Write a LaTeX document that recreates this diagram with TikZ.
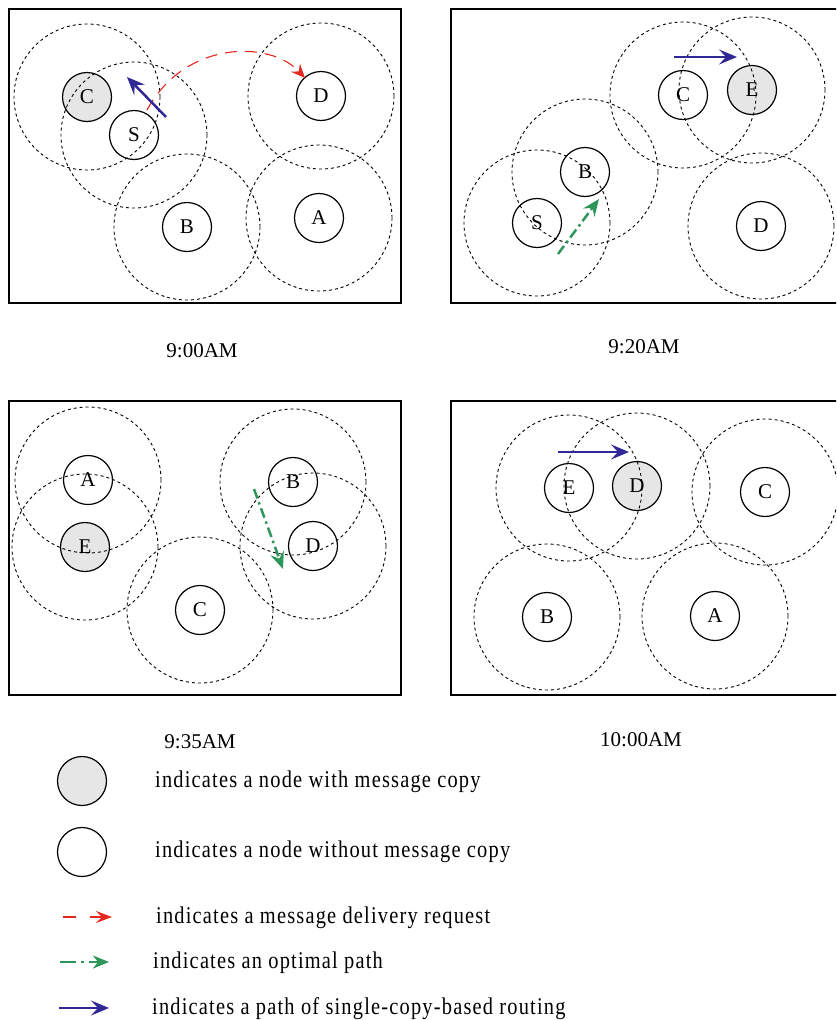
\documentclass[tikz,border=0pt]{standalone}
\usepackage{fontspec}
\setmainfont{Liberation Serif}
\newfontfamily\legfont[LetterSpace=5,FakeStretch=0.85]{Liberation Serif}
\usetikzlibrary{arrows.meta}
\definecolor{copyfill}{RGB}{230,230,230}
\definecolor{reqred}{RGB}{228,40,30}
\definecolor{optgreen}{RGB}{46,150,90}
\definecolor{scblue}{RGB}{48,40,150}
\begin{document}
\begin{tikzpicture}[x=1pt,y=-1pt,
  pbox/.style={draw, line width=1.1pt},
  mnode/.style={circle, draw, line width=1.2pt, minimum size=49pt, inner sep=0pt, font=\fontsize{21}{21}\selectfont},
  copynode/.style={mnode, fill=copyfill},
  rangecirc/.style={draw, line width=0.9pt, dash pattern=on 3pt off 3pt},
  reqarrow/.style={draw=reqred, line width=1.1pt, dash pattern=on 12pt off 8pt, -{Stealth[length=14pt,width=12pt,inset=5pt]}},
  optarrow/.style={draw=optgreen, line width=2.5pt, dash pattern=on 10pt off 4pt on 2.5pt off 4pt, -{Stealth[length=17pt,width=14pt,inset=6pt]}},
  scarrow/.style={draw=scblue, line width=2.5pt, -{Stealth[length=18pt,width=15pt,inset=7pt]}},
  timelbl/.style={anchor=base, inner sep=0pt, font=\fontsize{21}{21}\selectfont},
  legtext/.style={anchor=base west, inner sep=0pt, font=\legfont\fontsize{24}{24}\selectfont}
]
\useasboundingbox (0,0) rectangle (836,1020);
\clip (0,0) rectangle (836,1020);

% ---------- panel 1 : 9:00AM ----------
\draw[pbox] (9,9) rectangle (401,303);
\node[copynode] (p1C) at (87,97) {C};
\node[mnode] (p1S) at (134,135) {S};
\node[mnode] (p1D) at (321,96) {D};
\node[mnode] (p1B) at (187,227) {B};
\node[mnode] (p1A) at (319,218) {A};
\foreach \n in {p1C,p1S,p1D,p1B,p1A} \draw[rangecirc] (\n.center) circle[radius=73pt];
\coordinate (p1r0) at (147,110);
\coordinate (p1r1) at (305,78);
\draw[reqarrow] (p1r0) .. controls (185,40) and (270,40) .. (p1r1);
\coordinate (p1b0) at (166,117);
\coordinate (p1b1) at (127,77);
\draw[scarrow] (p1b0) -- (p1b1);
\node[timelbl] (t1) at (202,357) {9:00AM};

% ---------- panel 2 : 9:20AM ----------
\draw[pbox] (840,9) -- (451,9) -- (451,303) -- (840,303);
\node[mnode] (p2C) at (683,95) {C};
\node[copynode] (p2E) at (752,90) {E};
\node[mnode] (p2B) at (585,172) {B};
\node[mnode] (p2S) at (537,223) {S};
\node[mnode] (p2D) at (761,226) {D};
\foreach \n in {p2C,p2E,p2B,p2S,p2D} \draw[rangecirc] (\n.center) circle[radius=73pt];
\coordinate (p2b0) at (674,57);
\coordinate (p2b1) at (737,57);
\draw[scarrow] (p2b0) -- (p2b1);
\coordinate (p2g0) at (558,254);
\coordinate (p2g1) at (599,199);
\draw[optarrow] (p2g0) -- (p2g1);
\node[timelbl] (t2) at (644,353) {9:20AM};

% ---------- panel 3 : 9:35AM ----------
\draw[pbox] (9,401) rectangle (401,695);
\node[mnode] (p3A) at (88,480) {A};
\node[copynode] (p3E) at (85,547) {E};
\node[mnode] (p3B) at (293,482) {B};
\node[mnode] (p3D) at (313,546) {D};
\node[mnode] (p3C) at (200,610) {C};
\foreach \n in {p3A,p3E,p3B,p3D,p3C} \draw[rangecirc] (\n.center) circle[radius=73pt];
\coordinate (p3g0) at (254,489);
\coordinate (p3g1) at (283,569);
\draw[optarrow] (p3g0) -- (p3g1);
\node[timelbl] (t3) at (200,748) {9:35AM};

% ---------- panel 4 : 10:00AM ----------
\draw[pbox] (840,401) -- (451,401) -- (451,695) -- (840,695);
\node[mnode] (p4E) at (569,488) {E};
\node[copynode] (p4D) at (637,486) {D};
\node[mnode] (p4C) at (765,492) {C};
\node[mnode] (p4B) at (547,617) {B};
\node[mnode] (p4A) at (715,616) {A};
\foreach \n in {p4E,p4D,p4C,p4B,p4A} \draw[rangecirc] (\n.center) circle[radius=73pt];
\coordinate (p4b0) at (558,452);
\coordinate (p4b1) at (629,452);
\draw[scarrow] (p4b0) -- (p4b1);
\node[timelbl] (t4) at (641,746) {10:00AM};

% ---------- legend ----------
\node[copynode] (lg1) at (82,781) {};
\node[legtext] (lt1) at (155,787) {indicates a node with message copy};
\node[mnode] (lg2) at (82,852) {};
\node[legtext] (lt2) at (155,857) {indicates a node without message copy};
\coordinate (lr0) at (63,917);
\coordinate (lr1) at (112,917);
\draw[draw=reqred, line width=1.1pt, dash pattern=on 13pt off 14pt, -{Stealth[length=16pt,width=12pt,inset=6pt]}] (lr0) -- (lr1);
\node[legtext] (lt3) at (156,923) {indicates a message delivery request};
\coordinate (lo0) at (60,962);
\coordinate (lo1) at (109,962);
\draw[draw=optgreen, line width=2.5pt, dash pattern=on 16pt off 5pt on 3pt off 5pt, -{Stealth[length=16pt,width=13pt,inset=5pt]}] (lo0) -- (lo1);
\node[legtext] (lt4) at (153,968) {indicates an optimal path};
\coordinate (ls0) at (59,1008);
\coordinate (ls1) at (109,1008);
\draw[scarrow] (ls0) -- (ls1);
\node[legtext] (lt5) at (152,1014) {indicates a path of single-copy-based routing};
\end{tikzpicture}
\end{document}
